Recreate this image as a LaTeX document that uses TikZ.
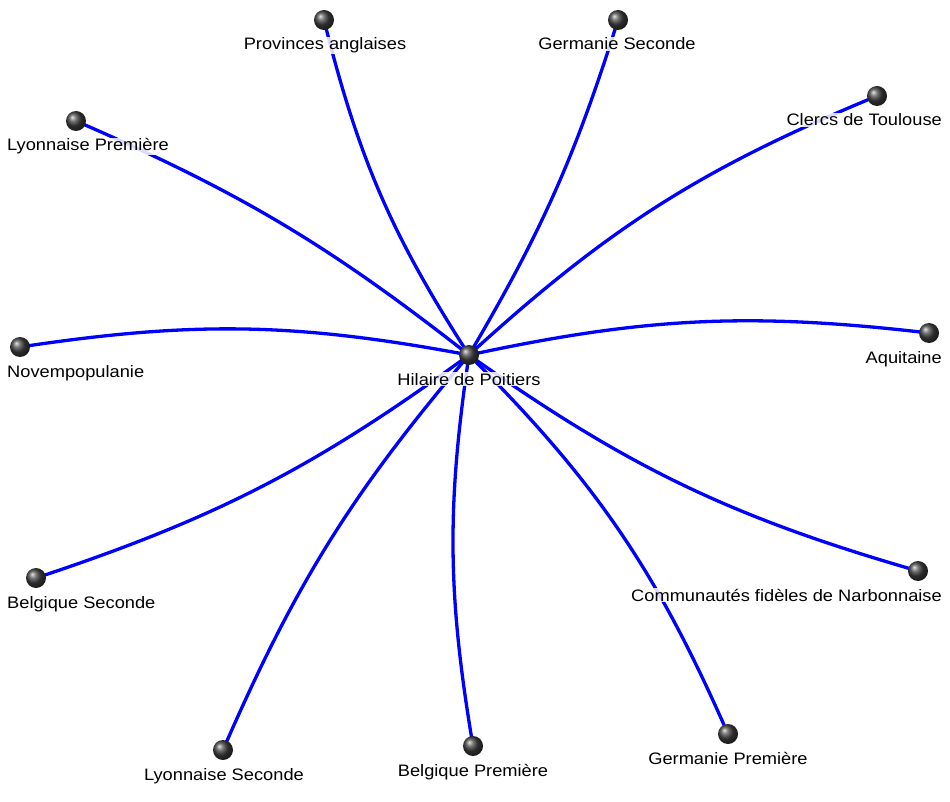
\documentclass[tikz,border=0pt]{standalone}
\usepackage{fontspec}
\setmainfont{Liberation Sans}[FakeStretch=1.1]
\begin{document}
\begin{tikzpicture}[x=1pt,y=-1pt,
  ballnode/.style={circle, minimum size=20pt, inner sep=0pt, shading=ball, ball color=black!75},
  edge/.style={draw=blue, line width=3.3pt},
  lbl/.style={fill=white, fill opacity=0.85, text opacity=1, inner sep=1pt,
    font=\fontsize{16.6}{20}\selectfont}]
\useasboundingbox (0,0) rectangle (950,802);
% positions of balls
\coordinate (pc) at (469,355);
\coordinate (p1) at (20,347);
\coordinate (p2) at (929,333);
\coordinate (p3) at (36,578);
\coordinate (p4) at (223,750);
\coordinate (p5) at (473,746);
\coordinate (p6) at (728,734);
\coordinate (p7) at (918,571);
\coordinate (p8) at (76,121);
\coordinate (p9) at (324,20);
\coordinate (p10) at (618,20);
\coordinate (p11) at (877,96);
% edges
\draw[edge] (pc) to[bend right=9.6] (p1);
\draw[edge] (pc) to[bend left=9.4] (p2);
\draw[edge] (pc) to[bend left=8.9] (p3);
\draw[edge] (pc) to[bend right=8.4] (p4);
\draw[edge] (pc) to[bend right=9] (p5);
\draw[edge] (pc) to[bend left=10.7] (p6);
\draw[edge] (pc) to[bend right=9.6] (p7);
\draw[edge] (pc) to[bend right=7.3] (p8);
\draw[edge] (pc) to[bend left=9.4] (p9);
\draw[edge] (pc) to[bend right=6.5] (p10);
\draw[edge] (pc) to[bend left=10] (p11);
% balls
\node[ballnode] (bc) at (pc) {};
\node[ballnode] (b1) at (p1) {};
\node[ballnode] (b2) at (p2) {};
\node[ballnode] (b3) at (p3) {};
\node[ballnode] (b4) at (p4) {};
\node[ballnode] (b5) at (p5) {};
\node[ballnode] (b6) at (p6) {};
\node[ballnode] (b7) at (p7) {};
\node[ballnode] (b8) at (p8) {};
\node[ballnode] (b9) at (p9) {};
\node[ballnode] (b10) at (p10) {};
\node[ballnode] (b11) at (p11) {};
% labels
\node[lbl, anchor=base] (lc) at (469,385) {Hilaire de Poitiers};
\node[lbl, anchor=base west] (l1) at (6,377) {Novempopulanie};
\node[lbl, anchor=base east] (l2) at (943,363) {Aquitaine};
\node[lbl, anchor=base west] (l3) at (6,608) {Belgique Seconde};
\node[lbl, anchor=base] (l4) at (224,780) {Lyonnaise Seconde};
\node[lbl, anchor=base] (l5) at (473,776) {Belgique Première};
\node[lbl, anchor=base] (l6) at (728,764) {Germanie Première};
\node[lbl, anchor=base east] (l7) at (943,601) {Communautés fidèles de Narbonnaise};
\node[lbl, anchor=base west] (l8) at (6,151) {Lyonnaise Première};
\node[lbl, anchor=base] (l9) at (325,50) {Provinces anglaises};
\node[lbl, anchor=base] (l10) at (617,50) {Germanie Seconde};
\node[lbl, anchor=base east] (l11) at (943,126) {Clercs de Toulouse};
\end{tikzpicture}
\end{document}
